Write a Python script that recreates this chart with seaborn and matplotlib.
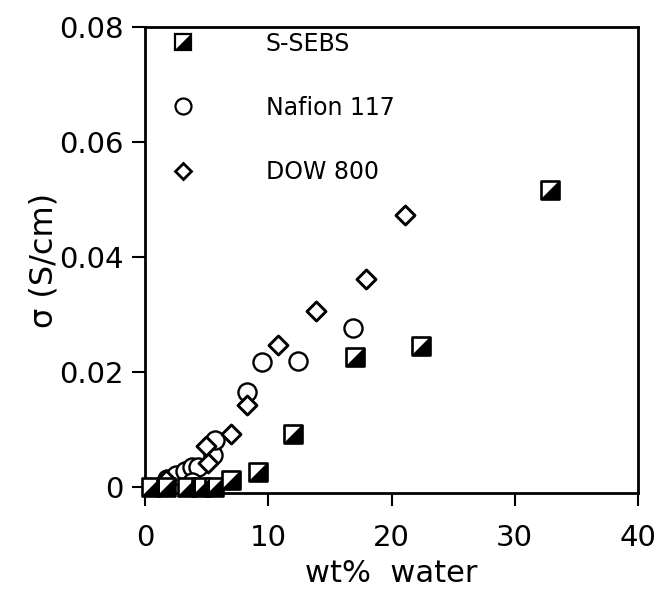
import numpy as np
import pandas as pd
import seaborn as sns
import matplotlib.pyplot as plt
from matplotlib.lines import Line2D
from matplotlib.markers import MarkerStyle
from matplotlib.path import Path
from matplotlib.legend_handler import HandlerTuple

sns.set_theme(style="ticks")
plt.rcParams.update({'font.family': ['DejaVu Sans'], 'text.color': 'black',
                     'axes.labelcolor': 'black', 'xtick.color': 'black', 'ytick.color': 'black'})

# values
sebs_water = [0.5, 1.7, 3.4, 4.5, 5.6, 7.0, 9.2, 12.0, 17.0, 22.4, 32.9]
sebs_sigma = [0.0, 0.0, 0.0, 0.0, 0.0, 0.0012, 0.0027, 0.0093, 0.0227, 0.0245, 0.0517]

nafion_water = [1.8, 2.5, 3.2, 3.8, 4.3, 3.8, 5.5, 5.7, 8.3, 9.5, 12.4, 16.9]
nafion_sigma = [0.0015, 0.0022, 0.0028, 0.0035, 0.0036, 0.001, 0.0057, 0.0082, 0.0165, 0.0218, 0.0220, 0.0277]

dow_water = [1.7, 5.1, 4.9, 7.0, 8.3, 10.8, 13.9, 17.9, 21.1]
dow_sigma = [0.0012, 0.0042, 0.0072, 0.0092, 0.0143, 0.0248, 0.0307, 0.0362, 0.0474]

series_names = ['S-SEBS', 'Nafion 117', 'DOW 800']

sebs = pd.DataFrame({'water': sebs_water, 'sigma': sebs_sigma})
nafion = pd.DataFrame({'water': nafion_water, 'sigma': nafion_sigma})
dow = pd.DataFrame({'water': dow_water, 'sigma': dow_sigma})

# lower-right black half of the square marker
tri = MarkerStyle(Path([(-0.5, -0.5), (0.5, -0.5), (0.5, 0.5), (-0.5, -0.5)],
                       [Path.MOVETO, Path.LINETO, Path.LINETO, Path.CLOSEPOLY]))

f, ax = plt.subplots(figsize=(6.63, 5.97), dpi=100)
f.subplots_adjust(left=0.219, right=0.962, top=0.955, bottom=0.174)

ms = 170
ax = sns.scatterplot(x='water', y='sigma', data=nafion, marker='o', s=ms, clip_on=False,
                     facecolor='white', edgecolor='black', linewidth=1.7, zorder=3, ax=ax)
ax = sns.scatterplot(x='water', y='sigma', data=dow, marker='D', s=ms * 0.55, clip_on=False,
                     facecolor='white', edgecolor='black', linewidth=2.1, zorder=3, ax=ax)
ax = sns.scatterplot(x='water', y='sigma', data=sebs, marker='s', s=ms, clip_on=False,
                     facecolor='white', edgecolor='black', linewidth=1.9, zorder=4, ax=ax)
ax = sns.scatterplot(x='water', y='sigma', data=sebs, marker=tri, s=ms, clip_on=False,
                     color='black', linewidth=0, zorder=5, ax=ax)

ax.set_xlim(0, 40)
ax.set_ylim(-0.001, 0.08)
ax.set_xticks([0, 10, 20, 30, 40])
ax.set_yticks([0, 0.02, 0.04, 0.06, 0.08])
ax.set_yticklabels(['0', '0.02', '0.04', '0.06', '0.08'])
ax.tick_params(axis='both', length=9.5, width=1.5, labelsize=21, color='black')
ax.tick_params(axis='x', pad=13)
ax.tick_params(axis='y', pad=6)
for sp in ax.spines.values():
    sp.set_linewidth(2)
    sp.set_color('black')

ax.set_xlabel('wt%  water', fontsize=22, labelpad=5)
ax.set_ylabel('σ (S/cm)', fontsize=23, labelpad=0)

leg_ms = 11.5
h_sebs = (Line2D([], [], ls='', marker='s', ms=leg_ms, mfc='white', mec='black', mew=1.6),
          Line2D([], [], ls='', marker=tri, ms=leg_ms, mfc='black', mec='black', mew=0))
h_naf = Line2D([], [], ls='', marker='o', ms=leg_ms, mfc='white', mec='black', mew=1.6)
h_dow = Line2D([], [], ls='', marker='D', ms=leg_ms * 0.75, mfc='white', mec='black', mew=2)
ax.legend([h_sebs, h_naf, h_dow], series_names, handler_map={tuple: HandlerTuple(ndivide=1)},
          loc='upper left', bbox_to_anchor=(0.053, 0.99), frameon=False, fontsize=17,
          handlelength=1.0, handletextpad=3.0, labelspacing=1.7, borderpad=0, borderaxespad=0)

plt.savefig('out.png', dpi=100)
